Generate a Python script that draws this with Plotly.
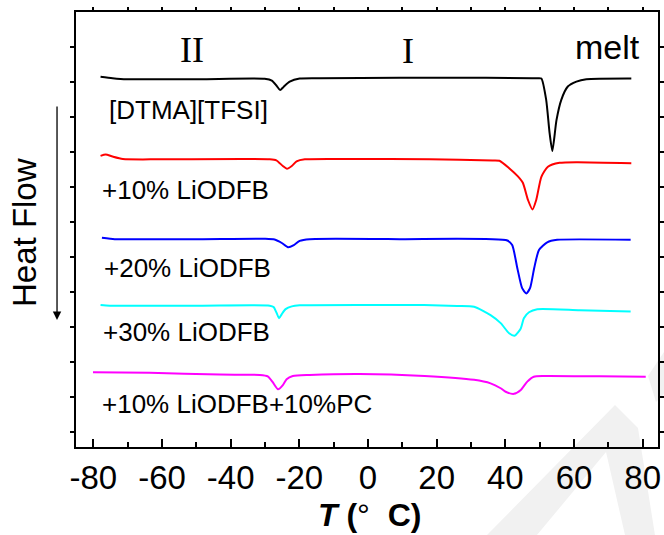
import plotly.graph_objects as go

# ---------------- data (T in deg C, heat flow in arbitrary offset units) -------------
T_pure = [-77.9, -74.4, -70.3, -49.0, -30.1, -28.0, -26.6, -25.6, -24.6, -22.8, -19.9, -14.1,
          9.2, 32.5, 49.4, 50.5, 51.9, 52.9, 53.7, 54.9, 56.3, 58.2, 60.7, 63.6, 76.7]
HF_pure = [10.15, 10.11, 10.08, 10.08, 10.09, 10.04, 9.89, 9.77, 9.86, 10.01, 10.10, 10.11,
           10.12, 10.12, 10.11, 10.10, 9.49, 8.54, 8.03, 8.91, 9.49, 9.87, 10.01, 10.08, 10.10]

T_10 = [-77.9, -76.4, -74.4, -71.4, -60.7, -28.6, -26.7, -24.8, -23.6, -22.2, -20.8, -18.4,
        -5.3, 18.0, 36.3, 38.3, 41.2, 43.6, 45.1, 46.6, 47.9, 49.0, 50.5, 52.4, 55.8, 60.7, 76.7]
HF_10 = [7.89, 7.93, 7.87, 7.80, 7.79, 7.79, 7.76, 7.60, 7.52, 7.60, 7.73, 7.79,
         7.80, 7.79, 7.76, 7.75, 7.53, 7.31, 7.12, 6.63, 6.36, 6.63, 7.29, 7.58, 7.69, 7.71, 7.68]

T_20 = [-77.5, -73.8, -70.4, -49.0, -30.1, -27.2, -25.1, -23.3, -21.6, -19.9, -17.0, 9.2,
        40.6, 42.0, 43.5, 44.9, 46.1, 47.2, 48.4, 49.8, 52.2, 55.1, 76.5]
HF_20 = [5.55, 5.51, 5.51, 5.51, 5.52, 5.50, 5.40, 5.28, 5.34, 5.46, 5.51, 5.51,
         5.47, 5.34, 4.68, 4.11, 3.96, 4.11, 4.68, 5.20, 5.42, 5.49, 5.49]

T_30 = [-77.9, -75.2, -49.0, -28.6, -27.5, -26.6, -25.9, -25.1, -24.0, -22.2, -19.9, 9.2,
        16.3, 26.0, 30.9, 35.7, 38.65, 41.1, 42.7, 44.5, 45.4, 46.9, 49.3, 61.7, 76.5]
HF_30 = [3.63, 3.61, 3.61, 3.61, 3.57, 3.40, 3.25, 3.37, 3.51, 3.59, 3.62, 3.63,
         3.63, 3.60, 3.58, 3.34, 3.11, 2.82, 2.75, 2.96, 3.25, 3.42, 3.51, 3.48, 3.44]

T_pc = [-80.1, -63.6, -43.2, -31.5, -29.2, -27.8, -26.2, -24.8, -23.7, -21.9, -17.0, -2.4,
        16.5, 30.9, 35.7, 38.65, 40.1, 42.5, 44.5, 46.4, 48.3, 51.3, 67.5, 80.9]
HF_pc = [1.71, 1.69, 1.64, 1.63, 1.59, 1.43, 1.22, 1.34, 1.51, 1.60, 1.63, 1.66,
         1.60, 1.49, 1.39, 1.25, 1.15, 1.09, 1.20, 1.44, 1.58, 1.60, 1.59, 1.58]

series = [
    (T_pure, HF_pure, "black", "[DTMA][TFSI]"),
    (T_10, HF_10, "#ff0000", "+10% LiODFB"),
    (T_20, HF_20, "#0000ff", "+20% LiODFB"),
    (T_30, HF_30, "#00ffff", "+30% LiODFB"),
    (T_pc, HF_pc, "#ff00ff", "+10% LiODFB+10%PC"),
]

x_ticks = [-80, -60, -40, -20, 0, 20, 40, 60, 80]
y_ticks = list(range(0, 12))

# label positions (data coords)
label_pos = [(-76.1, 9.2), (-78.1, 6.91), (-77.6, 4.70), (-77.9, 2.87), (-78.1, 0.80)]

fig = go.Figure()
for (t, h, c, name) in series:
    fig.add_trace(go.Scatter(x=t, y=h, mode="lines", line=dict(color=c, width=2, shape="spline", smoothing=0.6),
                             showlegend=False, hoverinfo="skip"))
# helper trace for top axis
fig.add_trace(go.Scatter(x=T_pure, y=HF_pure, xaxis="x2", mode="lines", line=dict(width=0),
                         opacity=0, showlegend=False, hoverinfo="skip"))

# plot area in pixels: left 76, right 658, top 12, bottom 447
def px2paper(px, py):
    return (px - 76) / 582.0, (447 - py) / 435.0

def path_from(points):
    pts = [px2paper(*p) for p in points]
    return "M " + " L ".join(f"{x:.4f},{y:.4f}" for x, y in pts) + " Z"

watermark = [
    dict(type="path", xref="paper", yref="paper", layer="below", line=dict(width=0),
         fillcolor="#f1f1f1",
         path=path_from([(487, 535), (615, 405), (638, 428), (655, 535), (625, 535), (606, 452), (537, 535)])),
    dict(type="path", xref="paper", yref="paper", layer="below", line=dict(width=0),
         fillcolor="#f1f1f1",
         path=path_from([(648, 376), (664, 352), (664, 394), (656, 402)])),
]

font_sans = "Arial, Liberation Sans, sans-serif"
annotations = []
for (t, h, c, name), (lx, ly) in zip(series, label_pos):
    annotations.append(dict(x=lx, y=ly, xref="x", yref="y", text=name, showarrow=False,
                            xanchor="left", yanchor="middle",
                            font=dict(family=font_sans, size=26, color="black")))
annotations += [
    dict(x=79.7, y=11.01, xref="x", yref="y", text="melt", showarrow=False, xanchor="right",
         yanchor="middle", font=dict(family=font_sans, size=34, color="black")),
    dict(x=-51.3, y=10.91, xref="x", yref="y", text="II", showarrow=False, xanchor="center",
         yanchor="middle", font=dict(family="Liberation Serif, Times New Roman, serif", size=36, color="black")),
    dict(x=11.65, y=10.89, xref="x", yref="y", text="I", showarrow=False, xanchor="center",
         yanchor="middle", font=dict(family="Liberation Serif, Times New Roman, serif", size=36, color="black")),
    dict(x=0.505, y=-0.156, xref="paper", yref="paper", text="<b><i>T</i> (</b>°  <b>C)</b>",
         showarrow=False, xanchor="center", yanchor="middle",
         font=dict(family=font_sans, size=32, color="black")),
    dict(x=-0.0876, y=0.492, xref="paper", yref="paper", text="Heat Flow", textangle=-90,
         showarrow=False, xanchor="center", yanchor="middle",
         font=dict(family=font_sans, size=33, color="black")),
    dict(x=-0.0326, y=0.292, xref="paper", yref="paper", text="", showarrow=True,
         ax=0, ay=-215, arrowhead=2, arrowsize=1.3, arrowwidth=1.3, arrowcolor="black"),
]

fig.update_layout(
    width=664, height=535,
    margin=dict(l=76, r=6, t=12, b=88, autoexpand=False),
    paper_bgcolor="white", plot_bgcolor="rgba(0,0,0,0)",
    annotations=annotations,
    shapes=watermark,
    xaxis=dict(range=[-85.05, 84.47], tickvals=x_ticks, ticktext=[str(v) for v in x_ticks],
               ticks="inside", ticklen=8, tickwidth=1.5, tickcolor="black",
               minor=dict(dtick=10, tick0=0, ticks="inside", ticklen=5, tickwidth=1.5, tickcolor="black"),
               showline=True, linewidth=2, linecolor="black", mirror=False,
               showgrid=False, zeroline=False, automargin=False,
               tickfont=dict(family=font_sans, size=33, color="black")),
    xaxis2=dict(range=[-85.05, 84.47], overlaying="x", side="top", anchor="y",
                tick0=0, dtick=10, ticks="outside", ticklen=3, tickwidth=1.5, tickcolor="black",
                showticklabels=False, showline=True, linewidth=2, linecolor="black",
                showgrid=False, zeroline=False, automargin=False),
    yaxis=dict(range=[-0.4286, 12], tickvals=y_ticks, ticks="outside", ticklen=4, tickwidth=1.5,
               tickcolor="black", showticklabels=False, showline=True, linewidth=2,
               linecolor="black", mirror="ticks", showgrid=False, zeroline=False, automargin=False),
)

fig.write_html("out.html")
